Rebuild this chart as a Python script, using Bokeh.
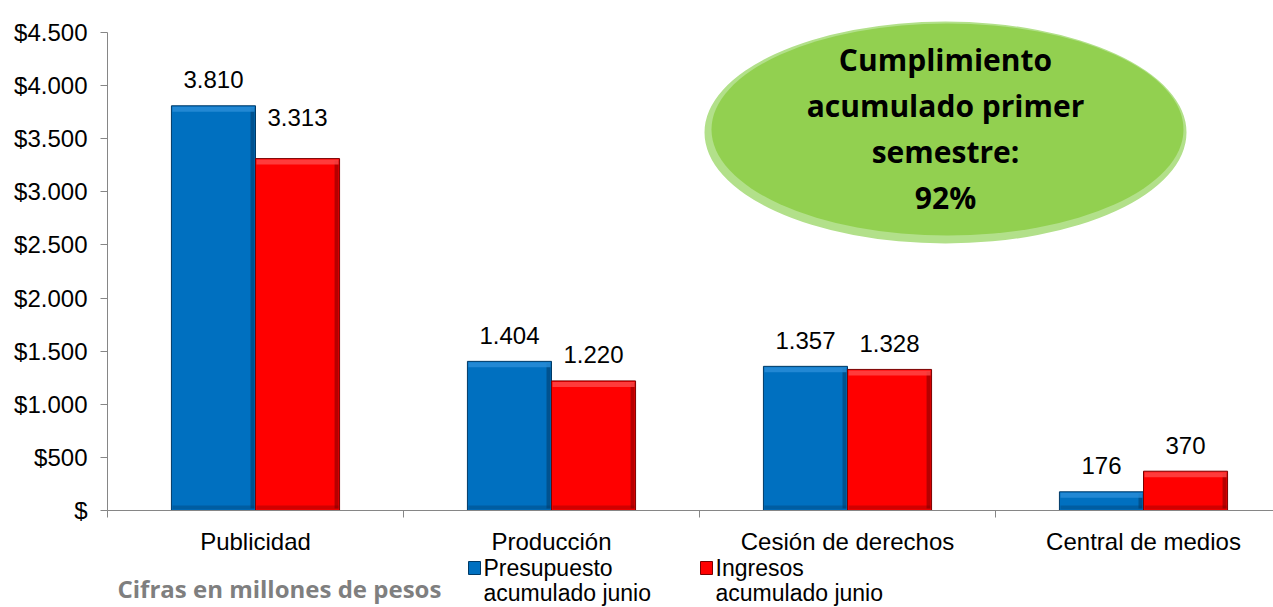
from bokeh.plotting import figure
from bokeh.models import Range1d, FixedTicker, Label, LabelSet, ColumnDataSource
from bokeh.embed import file_html
from bokeh.resources import INLINE
from bokeh.core.properties import value

# ---- data ----
categories = ["Publicidad", "Producción", "Cesión de derechos", "Central de medios"]
presupuesto = [3810, 1404, 1357, 176]
ingresos = [3313, 1220, 1328, 370]
y_ticks = [0, 500, 1000, 1500, 2000, 2500, 3000, 3500, 4000, 4500]
y_tick_labels = ["$", "$500", "$1.000", "$1.500", "$2.000", "$2.500", "$3.000", "$3.500", "$4.000", "$4.500"]
series_names = ["Presupuesto\nacumulado junio", "Ingresos\nacumulado junio"]
note_text = "Cifras en millones de pesos"
callout_text = "Cumplimiento\nacumulado primer\nsemestre:\n92%"

# ---- style ----
BLUE = "#0070c0"
BLUE_DARK = "#003a66"
BLUE_LIGHT = "#2b8fd8"
RED = "#ff0000"
RED_DARK = "#7a0000"
RED_LIGHT = "#ff4a4a"
AXIS = "#868686"
ARIAL = "Liberation Sans"
BAR_W = 0.284
red_label_dy = [41, 26, 26, 26]
blue_label_dy = [26, 26, 26, 26]

W, H = 1273, 607
ORIGIN_X, ORIGIN_Y = 107, 510      # page position of the axes origin
PX_PER_X = 296.0
PX_PER_Y = 478.0 / 4500.0
X_START, X_END = -ORIGIN_X / PX_PER_X, (W - ORIGIN_X) / PX_PER_X
Y_START, Y_END = -(H - ORIGIN_Y) / PX_PER_Y, ORIGIN_Y / PX_PER_Y


def fmt(v):
    return f"{v:,}".replace(",", ".")


def dx(px):  # horizontal pixel distance -> data units
    return px / PX_PER_X


def dy(px):  # vertical pixel distance -> data units
    return px / PX_PER_Y


def at_x(page_x):
    return (page_x - ORIGIN_X) / PX_PER_X


def at_y(page_y):
    return (ORIGIN_Y - page_y) / PX_PER_Y


p = figure(width=W, height=H, output_backend="svg", toolbar_location=None,
           x_range=Range1d(X_START, X_END), y_range=Range1d(Y_START, Y_END))
p.min_border = 0
p.min_border_left = 0
p.min_border_right = 0
p.min_border_top = 0
p.min_border_bottom = 0
p.outline_line_color = None
p.xgrid.visible = False
p.ygrid.visible = False
p.background_fill_color = "white"
p.border_fill_color = "white"

centers = [i + 0.5 for i in range(len(categories))]
bx = [c - BAR_W / 2 for c in centers]
rx = [c + BAR_W / 2 for c in centers]
src_b = ColumnDataSource(dict(x=bx, top=presupuesto, lab=[fmt(v) for v in presupuesto], dy=blue_label_dy))
src_r = ColumnDataSource(dict(x=rx, top=ingresos, lab=[fmt(v) for v in ingresos], dy=red_label_dy))

for src, fill, dark, light in ((src_b, BLUE, BLUE_DARK, BLUE_LIGHT), (src_r, RED, RED_DARK, RED_LIGHT)):
    p.vbar(x="x", top="top", bottom=0, width=BAR_W, source=src, fill_color=fill,
           line_color=dark, line_width=1)
    xs = src.data["x"]
    tops = src.data["top"]
    # bevel: darker right edge, lighter top edge, darker bottom edge
    p.quad(left=[x + BAR_W / 2 - dx(5) for x in xs], right=[x + BAR_W / 2 - dx(1) for x in xs],
           top=[t - dy(2) for t in tops], bottom=[dy(2)] * len(xs), fill_color=dark, fill_alpha=0.55,
           line_color=None)
    p.quad(left=[x - BAR_W / 2 + dx(1) for x in xs], right=[x + BAR_W / 2 - dx(1) for x in xs],
           top=[t - dy(1) for t in tops], bottom=[t - dy(6) for t in tops], fill_color=light,
           fill_alpha=0.8, line_color=None)
    p.quad(left=[x - BAR_W / 2 + dx(1) for x in xs], right=[x + BAR_W / 2 - dx(1) for x in xs],
           top=[dy(5)] * len(xs), bottom=[dy(1)] * len(xs), fill_color=dark,
           fill_alpha=0.35, line_color=None)

for src in (src_b, src_r):
    p.add_layout(LabelSet(x="x", y="top", text="lab", source=src, y_offset="dy",
                          text_align="center", text_baseline="middle",
                          text_font=value(ARIAL), text_font_size="24px", text_color="#000000"))

# axes (drawn at the data origin, inside the full-canvas frame)
ya = p.yaxis[0]
ya.fixed_location = 0
ya.ticker = FixedTicker(ticks=y_ticks)
ya.major_label_overrides = {t: l for t, l in zip(y_ticks, y_tick_labels)}
ya.bounds = (0, 4500)
ya.axis_line_color = AXIS
ya.major_tick_line_color = AXIS
ya.major_tick_out = 7
ya.major_tick_in = 0
ya.minor_tick_line_color = None
ya.major_label_standoff = 13
ya.major_label_text_font = ARIAL
ya.major_label_text_font_size = "24px"
ya.major_label_text_color = "#000000"

xa = p.xaxis[0]
xa.fixed_location = 0
xa.ticker = FixedTicker(ticks=centers, minor_ticks=list(range(len(categories) + 1)))
xa.major_label_overrides = {c: n for c, n in zip(centers, categories)}
xa.bounds = (0, X_END)
xa.axis_line_color = AXIS
xa.major_tick_line_color = None
xa.minor_tick_line_color = AXIS
xa.minor_tick_out = 7
xa.minor_tick_in = 0
xa.major_label_standoff = 10
xa.major_label_text_font = ARIAL
xa.major_label_text_font_size = "24px"
xa.major_label_text_color = "#000000"

# callout ellipse
ex, ey = at_x(945), at_y(132)
p.ellipse(x=[ex], y=[ey], width=482, height=222, width_units="screen", height_units="screen",
          fill_color="#b2e08a", line_color=None)
p.ellipse(x=[ex + dx(2)], y=[ey + dy(3)], width=472, height=212, width_units="screen", height_units="screen",
          fill_color="#92d050", line_color=None)
p.add_layout(Label(x=ex, y=at_y(128), text=callout_text, text_align="center", text_baseline="middle",
                   text_font="Open Sans", text_font_style="bold", text_font_size="30px",
                   text_line_height=1.13, text_color="#000000"))

# legend (manual, below the axis)
for lx, name, col, dark in zip([468, 700], series_names, [BLUE, RED], [BLUE_DARK, RED_DARK]):
    first, second = name.split("\n")
    p.quad(left=[at_x(lx)], right=[at_x(lx + 12)], top=[at_y(561)], bottom=[at_y(574)],
           fill_color=col, line_color=dark)
    p.add_layout(Label(x=at_x(lx + 15), y=at_y(567), text=first,
                       text_align="left", text_baseline="middle", text_font=ARIAL,
                       text_font_size="23px", text_color="#000000"))
    p.add_layout(Label(x=at_x(lx + 15), y=at_y(605), text=second,
                       text_align="left", text_baseline="bottom", text_font=ARIAL,
                       text_font_size="23px", text_color="#000000"))

p.add_layout(Label(x=at_x(117), y=at_y(588), text=note_text,
                   text_align="left", text_baseline="middle", text_font="Open Sans",
                   text_font_style="bold", text_font_size="24px", text_color="#7f7f7f"))

open("out.html", "w").write(file_html(p, INLINE))
